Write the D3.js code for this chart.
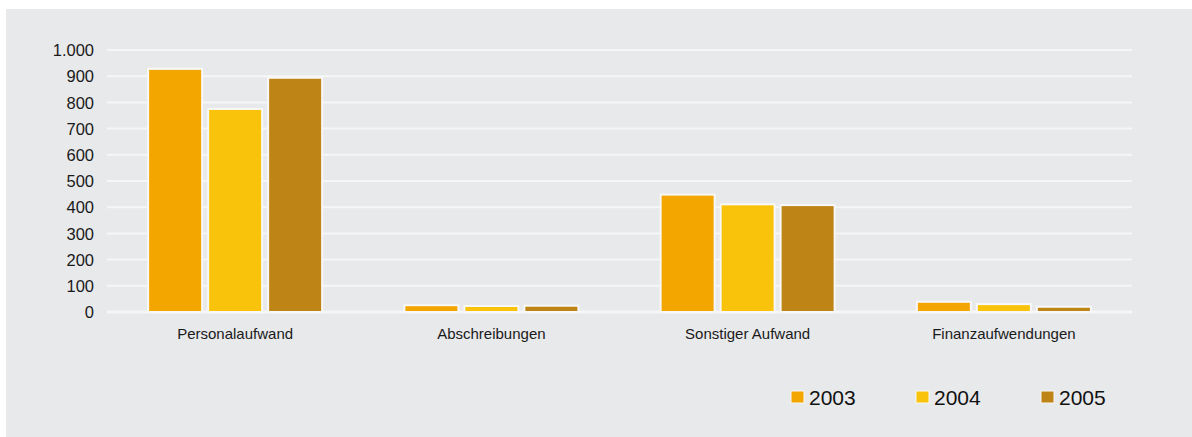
<!DOCTYPE html>
<html>
<head>
<meta charset="utf-8">
<script src="https://cdn.jsdelivr.net/npm/d3@7"></script>
<style>
  body { margin: 0; background: #ffffff; }
  svg { display: block; font-family: "Liberation Sans", Arial, sans-serif; }
</style>
</head>
<body>
<div class="vis"></div>
<script>
// frame dimensions
const FRAME_WIDTH = 1192;
const FRAME_HEIGHT = 437;
const MARGINS = {left: 107, right: 60, top: 50, bottom: 125};

const VIS_WIDTH = FRAME_WIDTH - MARGINS.left - MARGINS.right;
const VIS_HEIGHT = FRAME_HEIGHT - MARGINS.top - MARGINS.bottom;

// data
const categories = ['Personalaufwand', 'Abschreibungen', 'Sonstiger Aufwand', 'Finanzaufwendungen'];
const years = ['2003', '2004', '2005'];
const values2003 = [928, 26, 448, 39];
const values2004 = [775, 23, 411, 30];
const values2005 = [894, 24, 408, 20];
const yTicks = [0, 100, 200, 300, 400, 500, 600, 700, 800, 900, 1000];
const colors = ['#F3A500', '#F9C30B', '#BE8415'];

const series = [values2003, values2004, values2005];
const rows = categories.map((c, i) => ({
  cat: c,
  vals: years.map((y, j) => ({year: y, value: series[j][i]}))
}));

const FRAME = d3.select('.vis')
  .append('svg')
    .attr('width', FRAME_WIDTH)
    .attr('height', FRAME_HEIGHT);

// panel background
FRAME.append('rect')
  .attr('x', 6)
  .attr('y', 9)
  .attr('width', FRAME_WIDTH - 6)
  .attr('height', FRAME_HEIGHT - 9)
  .attr('fill', '#E8E9EB');

const xscale = d3.scaleBand()
  .domain(categories)
  .range([0, VIS_WIDTH]);

const inner = d3.scaleBand()
  .domain(years)
  .range([0, 174])
  .paddingInner(0.1);

const yscale = d3.scaleLinear()
  .domain([0, 1000])
  .range([VIS_HEIGHT, 0]);

const g = FRAME.append('g')
  .attr('transform', 'translate(' + MARGINS.left + ',' + MARGINS.top + ')');

// gridlines
g.append('g')
  .selectAll('line')
  .data(yTicks)
  .enter().append('line')
    .attr('x1', 0)
    .attr('x2', VIS_WIDTH)
    .attr('y1', (d) => yscale(d))
    .attr('y2', (d) => yscale(d))
    .attr('stroke', '#F6F6F7')
    .attr('stroke-width', (d) => d === 0 ? 3 : 2);

// y axis labels
const fmt = d3.formatLocale({decimal: ',', thousands: '.', grouping: [3], currency: ['', '€']}).format(',d');
const yAxis = g.append('g')
  .attr('transform', 'translate(-13,0)')
  .call(d3.axisLeft(yscale).tickValues(yTicks).tickFormat(fmt).tickSize(0).tickPadding(0));
yAxis.select('.domain').remove();
yAxis.selectAll('text')
  .attr('font-size', '16.5px')
  .attr('fill', '#1a1a1a')
  .attr('dy', '0.35em');

// bars
const groups = g.selectAll('.grp')
  .data(rows)
  .enter().append('g')
    .attr('class', 'grp')
    .attr('transform', (d) => 'translate(' + (xscale(d.cat) + xscale.bandwidth() / 2 - 87) + ',0)');

groups.selectAll('rect')
  .data((d) => d.vals)
  .enter().append('rect')
    .attr('x', (d) => inner(d.year))
    .attr('y', (d) => yscale(d.value))
    .attr('width', inner.bandwidth())
    .attr('height', (d) => VIS_HEIGHT - yscale(d.value))
    .attr('fill', (d, i) => colors[i])
    .attr('stroke', '#F8F8F8')
    .attr('stroke-width', 2);

// category labels
const xAxis = g.append('g')
  .attr('transform', 'translate(0,' + VIS_HEIGHT + ')')
  .call(d3.axisBottom(xscale).tickSize(0).tickPadding(16));
xAxis.select('.domain').remove();
xAxis.selectAll('text')
  .attr('font-size', '15px')
  .attr('fill', '#1a1a1a');

// legend
const legend = FRAME.append('g')
  .attr('transform', 'translate(791,391)');
const items = legend.selectAll('g')
  .data(years)
  .enter().append('g')
    .attr('transform', (d, i) => 'translate(' + (i * 125) + ',0)');
items.append('rect')
  .attr('width', 13)
  .attr('height', 12)
  .attr('fill', (d, i) => colors[i])
  .attr('stroke', '#F8F8F8')
  .attr('stroke-width', 1);
items.append('text')
  .attr('x', 18)
  .attr('y', 13.5)
  .attr('font-size', '21px')
  .attr('fill', '#111')
  .text((d) => d);
</script>
</body>
</html>
